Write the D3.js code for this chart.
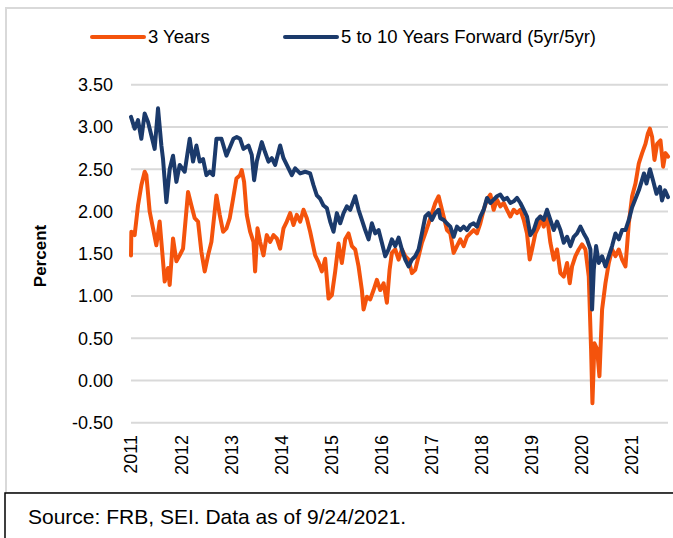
<!DOCTYPE html>
<html>
<head>
<meta charset="utf-8">
<script src="https://cdn.jsdelivr.net/npm/d3@7"></script>
<style>
  html, body { margin: 0; padding: 0; background: #fff; }
  svg { display: block; font-family: "Liberation Sans", Arial, sans-serif; }
</style>
</head>
<body>
<svg id="chart" width="673" height="538"></svg>
<script>
// ---- Data (decimal year, percent) ----
const seriesNames = ["3 Years", "5 to 10 Years Forward (5yr/5yr)"];
const yTicks = [-0.5, 0, 0.5, 1, 1.5, 2, 2.5, 3, 3.5];
const xTickYears = [2011, 2012, 2013, 2014, 2015, 2016, 2017, 2018, 2019, 2020, 2021];
const sourceText = "Source: FRB, SEI. Data as of 9/24/2021.";

const threeYears = [
 [2011.0,1.48],[2011.007,1.76],[2011.073,1.72],[2011.14,2.07],[2011.207,2.31],[2011.273,2.47],
 [2011.307,2.43],[2011.373,2.0],[2011.44,1.8],[2011.507,1.6],[2011.573,1.88],[2011.64,1.41],
 [2011.673,1.17],[2011.74,1.33],[2011.773,1.13],[2011.84,1.68],[2011.907,1.41],[2011.973,1.48],
 [2012.04,1.56],[2012.14,2.23],[2012.207,2.07],[2012.273,1.92],[2012.34,1.88],[2012.407,1.52],
 [2012.473,1.29],[2012.54,1.48],[2012.607,1.64],[2012.707,2.19],[2012.773,1.96],[2012.84,1.76],
 [2012.907,1.8],[2012.973,1.92],[2013.04,2.15],[2013.107,2.39],[2013.18,2.43],[2013.213,2.49],
 [2013.26,2.35],[2013.313,1.96],[2013.38,1.76],[2013.447,1.64],[2013.48,1.29],[2013.527,1.8],
 [2013.58,1.64],[2013.647,1.48],[2013.713,1.72],[2013.78,1.64],[2013.847,1.72],[2013.913,1.68],
 [2013.98,1.56],[2014.047,1.8],[2014.113,1.88],[2014.18,1.98],[2014.247,1.84],[2014.313,1.96],
 [2014.38,1.88],[2014.447,2.02],[2014.513,1.92],[2014.58,1.76],[2014.68,1.48],[2014.747,1.4],
 [2014.813,1.29],[2014.88,1.44],[2014.947,0.97],[2015.013,1.01],[2015.08,1.29],[2015.147,1.62],
 [2015.213,1.39],[2015.28,1.67],[2015.347,1.74],[2015.413,1.59],[2015.48,1.55],[2015.547,1.35],
 [2015.613,1.07],[2015.647,0.84],[2015.713,0.99],[2015.78,0.96],[2015.847,1.07],[2015.913,1.19],
 [2015.98,1.07],[2016.047,1.15],[2016.113,0.92],[2016.167,1.31],[2016.213,1.51],[2016.28,1.55],
 [2016.347,1.43],[2016.413,1.55],[2016.48,1.47],[2016.547,1.43],[2016.613,1.27],[2016.68,1.31],
 [2016.747,1.47],[2016.813,1.63],[2016.88,1.74],[2016.947,1.86],[2017.013,1.98],[2017.08,2.1],
 [2017.147,2.18],[2017.18,2.1],[2017.247,1.94],[2017.313,1.78],[2017.38,1.74],[2017.447,1.51],
 [2017.513,1.59],[2017.58,1.67],[2017.647,1.59],[2017.713,1.7],[2017.78,1.74],[2017.847,1.78],
 [2017.913,1.74],[2017.98,1.86],[2018.047,2.02],[2018.113,2.14],[2018.18,2.2],[2018.247,2.02],
 [2018.313,2.14],[2018.38,2.06],[2018.447,2.1],[2018.513,2.02],[2018.58,1.94],[2018.647,2.02],
 [2018.713,1.98],[2018.78,2.02],[2018.847,1.9],[2018.913,1.74],[2018.967,1.43],[2019.013,1.55],
 [2019.08,1.74],[2019.147,1.82],[2019.18,1.94],[2019.247,1.82],[2019.313,1.94],[2019.38,1.63],
 [2019.447,1.43],[2019.513,1.55],[2019.58,1.27],[2019.647,1.23],[2019.713,1.39],[2019.767,1.15],
 [2019.813,1.35],[2019.88,1.47],[2019.947,1.55],[2020.013,1.61],[2020.08,1.55],[2020.147,1.23],
 [2020.193,0.37],[2020.22,-0.27],[2020.26,0.44],[2020.313,0.37],[2020.36,0.05],[2020.413,0.84],
 [2020.48,1.15],[2020.547,1.39],[2020.613,1.55],[2020.68,1.47],[2020.747,1.55],[2020.813,1.43],
 [2020.88,1.35],[2020.947,1.86],[2021.013,2.18],[2021.08,2.33],[2021.147,2.57],[2021.213,2.69],
 [2021.28,2.8],[2021.327,2.92],[2021.367,2.98],[2021.413,2.88],[2021.46,2.61],[2021.513,2.8],
 [2021.58,2.84],[2021.633,2.53],[2021.68,2.69],[2021.73,2.65]
];

const fwd5y5y = [
 [2011.0,3.12],[2011.073,2.98],[2011.14,3.08],[2011.207,2.86],[2011.273,3.16],[2011.34,3.06],
 [2011.407,2.9],[2011.473,2.74],[2011.54,3.22],[2011.607,2.78],[2011.64,2.62],[2011.707,2.11],
 [2011.773,2.5],[2011.84,2.66],[2011.907,2.35],[2011.973,2.55],[2012.073,2.47],[2012.173,2.86],
 [2012.24,2.59],[2012.307,2.78],[2012.373,2.59],[2012.44,2.62],[2012.507,2.43],[2012.573,2.47],
 [2012.64,2.43],[2012.707,2.86],[2012.807,2.86],[2012.907,2.66],[2013.047,2.86],[2013.113,2.88],
 [2013.18,2.86],[2013.247,2.74],[2013.347,2.78],[2013.413,2.67],[2013.46,2.37],[2013.513,2.59],
 [2013.613,2.82],[2013.68,2.7],[2013.747,2.59],[2013.813,2.63],[2013.88,2.55],[2013.98,2.78],
 [2014.047,2.63],[2014.113,2.55],[2014.213,2.43],[2014.28,2.51],[2014.38,2.45],[2014.48,2.47],
 [2014.58,2.45],[2014.647,2.31],[2014.713,2.19],[2014.78,2.15],[2014.847,2.07],[2014.913,2.04],
 [2014.98,1.88],[2015.047,1.76],[2015.113,1.98],[2015.18,1.86],[2015.247,1.98],[2015.313,2.06],
 [2015.38,2.02],[2015.48,2.18],[2015.547,2.02],[2015.613,1.9],[2015.68,1.78],[2015.747,1.67],
 [2015.813,1.86],[2015.88,1.74],[2015.947,1.78],[2016.013,1.63],[2016.08,1.47],[2016.147,1.55],
 [2016.213,1.67],[2016.28,1.59],[2016.347,1.69],[2016.413,1.55],[2016.48,1.43],[2016.547,1.35],
 [2016.613,1.43],[2016.68,1.47],[2016.747,1.55],[2016.813,1.74],[2016.88,1.94],[2016.947,1.98],
 [2017.013,1.9],[2017.08,1.98],[2017.147,2.02],[2017.18,1.92],[2017.247,1.9],[2017.313,1.86],
 [2017.38,1.82],[2017.447,1.7],[2017.513,1.82],[2017.58,1.78],[2017.647,1.82],[2017.713,1.78],
 [2017.78,1.84],[2017.847,1.86],[2017.913,1.82],[2017.98,1.94],[2018.047,2.02],[2018.113,2.16],
 [2018.18,2.1],[2018.247,2.14],[2018.313,2.18],[2018.38,2.2],[2018.447,2.14],[2018.513,2.16],
 [2018.58,2.1],[2018.647,2.12],[2018.713,2.16],[2018.78,2.1],[2018.847,2.02],[2018.913,1.94],
 [2018.98,1.72],[2019.047,1.78],[2019.113,1.9],[2019.18,1.94],[2019.247,1.9],[2019.313,2.02],
 [2019.38,1.9],[2019.447,1.78],[2019.513,1.88],[2019.58,1.78],[2019.647,1.63],[2019.713,1.7],
 [2019.78,1.59],[2019.847,1.7],[2019.913,1.74],[2019.98,1.82],[2020.047,1.74],[2020.113,1.67],
 [2020.18,1.55],[2020.213,0.84],[2020.247,1.31],[2020.293,1.59],[2020.347,1.39],[2020.413,1.47],
 [2020.48,1.35],[2020.547,1.47],[2020.613,1.59],[2020.68,1.74],[2020.747,1.67],[2020.813,1.78],
 [2020.88,1.78],[2020.947,1.9],[2021.013,2.05],[2021.08,2.15],[2021.147,2.25],[2021.2,2.35],
 [2021.25,2.45],[2021.3,2.33],[2021.37,2.5],[2021.43,2.37],[2021.5,2.21],[2021.57,2.29],
 [2021.61,2.13],[2021.67,2.25],[2021.73,2.17]
];

const colors = ["#f4530c", "#1b3a6b"];

// ---- Drawing ----
const svg = d3.select("#chart");

// outer light border
svg.append("rect").attr("x", 6).attr("y", 8).attr("width", 700).attr("height", 485)
  .attr("fill", "none").attr("stroke", "#d9d9d9").attr("stroke-width", 2);
// source box
svg.append("rect").attr("x", 5).attr("y", 493).attr("width", 700).attr("height", 60)
  .attr("fill", "#fff").attr("stroke", "#000").attr("stroke-width", 1.5);
svg.append("text").attr("x", 28).attr("y", 524).attr("font-size", 21).attr("fill", "#000")
  .text(sourceText);

const x = d3.scaleLinear().domain([2011, 2021.73]).range([131, 668]);
const y = d3.scaleLinear().domain([-0.5, 3.5]).range([422.7, 84.7]);

// gridlines
svg.append("g").selectAll("line").data(yTicks).join("line")
  .attr("x1", x.range()[0]).attr("x2", x.range()[1])
  .attr("y1", d => y(d)).attr("y2", d => y(d))
  .attr("stroke", "#d9d9d9").attr("stroke-width", 2);

// y labels (ASCII hyphen for negatives)
svg.append("g").selectAll("text").data(yTicks).join("text")
  .attr("x", 113).attr("y", d => y(d)).attr("dy", "0.35em")
  .attr("text-anchor", "end").attr("font-size", 18).attr("fill", "#000")
  .text(d => d.toFixed(2));

// x labels rotated
svg.append("g").selectAll("text").data(xTickYears).join("text")
  .attr("transform", d => `translate(${x(d)},435) rotate(-90)`)
  .attr("dy", "0.36em").attr("text-anchor", "end")
  .attr("font-size", 18).attr("fill", "#000")
  .text(d => d);

// y title
svg.append("text").attr("transform", "translate(40,256) rotate(-90)")
  .attr("dy", "0.35em").attr("text-anchor", "middle")
  .attr("font-size", 17).attr("font-weight", "bold").attr("fill", "#000")
  .text("Percent");

// lines
const line = d3.line().x(d => x(d[0])).y(d => y(d[1]));
[threeYears, fwd5y5y].forEach((s, i) => {
  svg.append("path").datum(s).attr("d", line)
    .attr("fill", "none").attr("stroke", colors[i]).attr("stroke-width", 4)
    .attr("stroke-linejoin", "round").attr("stroke-linecap", "round");
});

// legend
const legendItems = [
  { name: seriesNames[0], x1: 92, x2: 144, tx: 148 },
  { name: seriesNames[1], x1: 285, x2: 337, tx: 341 }
];
const lg = svg.append("g");
legendItems.forEach((it, i) => {
  lg.append("line").attr("x1", it.x1).attr("x2", it.x2).attr("y1", 37).attr("y2", 37)
    .attr("stroke", colors[i]).attr("stroke-width", 4).attr("stroke-linecap", "round");
  lg.append("text").attr("x", it.tx).attr("y", 37).attr("dy", "0.35em")
    .attr("font-size", 18.5).attr("fill", "#000").text(it.name);
});
</script>
</body>
</html>
